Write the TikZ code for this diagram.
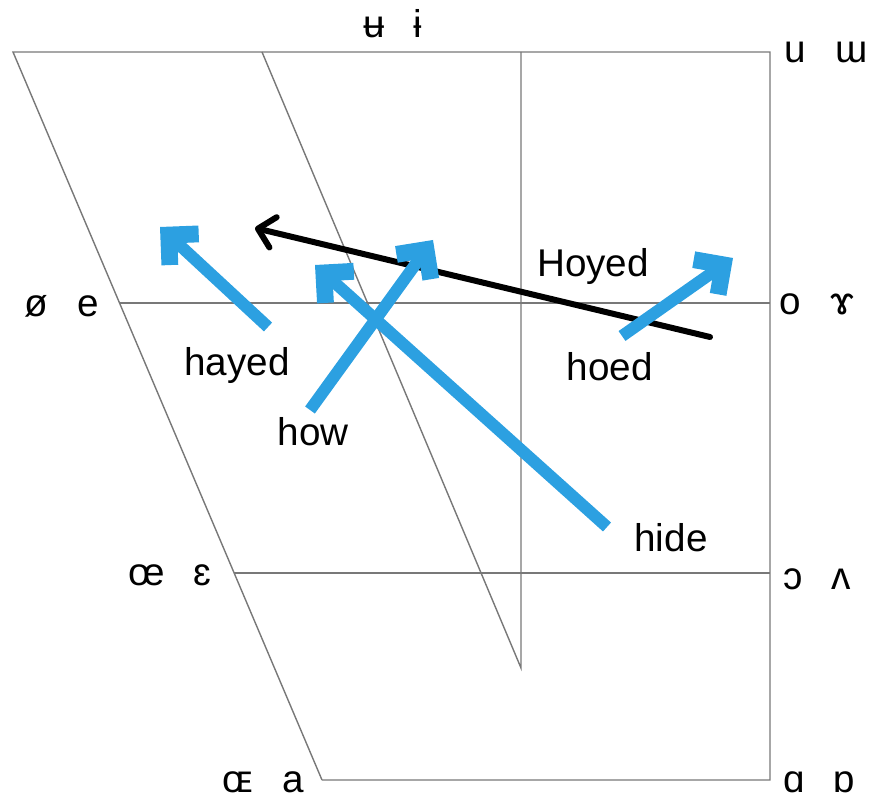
\documentclass[tikz,border=0pt]{standalone}
\usepackage{fontspec}
\setmainfont{Liberation Sans}
\usepackage{xcolor}
\usetikzlibrary{arrows.meta}

\definecolor{chartGrey}{RGB}{120,120,120}
\definecolor{glideBlue}{RGB}{44,160,225}

\begin{document}
\begin{tikzpicture}[
    x=0.025cm,
    y=-0.025cm,
    font=\fontsize{27.5}{32}\selectfont,
    chartLine/.style={
        draw=chartGrey,
        line width=1pt
    },
    glide/.style={
        draw=glideBlue,
        line width=0.3cm,
        -{Straight Barb[angle=90:0.75cm, line width=0.12cm 1]}
    },
    slideArrow/.style={
        draw=black,
        line width=0.15cm,
        line cap=round,
        -{Straight Barb[angle=90:0.55cm, round]}
    },
    vowelPair/.style={
        anchor=base,
        inner sep=0pt
    },
    wordLabel/.style={
        anchor=base,
        inner sep=0pt
    }
]

\useasboundingbox (0,0) rectangle (881,799);

%------------------------------------------------------------------------------
% Vowel chart frame
%------------------------------------------------------------------------------

\coordinate (topLeft)     at (13,52);
\coordinate (topMid)      at (262,52);
\coordinate (topCentre)   at (521,52);
\coordinate (topRight)    at (770,52);
\coordinate (midLeft)     at (119.5,303);
\coordinate (midRight)    at (770,303);
\coordinate (lowLeft)     at (234,573);
\coordinate (lowRight)    at (770,573);
\coordinate (bottomLeft)  at (322,780);
\coordinate (bottomRight) at (770,780);
\coordinate (centreFoot)  at (521,668);

\draw[chartLine] (bottomLeft) -- (topLeft) -- (topRight) -- (bottomRight) -- (bottomLeft);
\draw[chartLine] (topMid) -- (centreFoot) -- (topCentre);
\draw[chartLine] (midLeft) -- (midRight);
\draw[chartLine] (lowLeft) -- (lowRight);

%------------------------------------------------------------------------------
% Vowel symbols
%------------------------------------------------------------------------------

\node[vowelPair] (closeCentral) at (393,38)  {ʉ\hspace{0.75em}ɨ};
\node[vowelPair] (closeBack)    at (826,63)  {u\hspace{0.75em}ɯ};
\node[vowelPair] (midFront)     at (62,317)  {ø\hspace{0.75em}e};
\node[vowelPair] (midBack)      at (817,315) {o\hspace{0.75em}ɤ};
\node[vowelPair] (openMidFront) at (170,585) {œ\hspace{0.75em}ɛ};
\node[vowelPair] (openMidBack)  at (817,589) {ɔ\hspace{0.75em}ʌ};
\node[vowelPair] (openFront)    at (263,792) {ɶ\hspace{0.75em}a};
\node[vowelPair] (openBack)     at (819,792) {ɑ\hspace{0.75em}ɒ};

%------------------------------------------------------------------------------
% Diphthong glides
%------------------------------------------------------------------------------

\coordinate (hayedStart) at (268,327);
\coordinate (hayedEnd)   at (160,227);
\coordinate (howStart)   at (310,410);
\coordinate (howEnd)     at (433,240);
\coordinate (hideStart)  at (607,527);
\coordinate (hideEnd)    at (315,265);
\coordinate (hoedStart)  at (622,336);
\coordinate (hoedEnd)    at (733,258);
\coordinate (hoyedStart) at (710,337);
\coordinate (hoyedEnd)   at (255,228);

\draw[slideArrow] (hoyedStart) -- (hoyedEnd);
\draw[glide] (hayedStart) -- (hayedEnd);
\draw[glide] (howStart) -- (howEnd);
\draw[glide] (hideStart) -- (hideEnd);
\draw[glide] (hoedStart) -- (hoedEnd);

%------------------------------------------------------------------------------
% Word labels
%------------------------------------------------------------------------------

\node[wordLabel] (hayedLabel) at (237,376) {hayed};
\node[wordLabel] (howLabel)   at (313,446) {how};
\node[wordLabel] (hoyedLabel) at (593,277) {Hoyed};
\node[wordLabel] (hoedLabel)  at (610,381) {hoed};
\node[wordLabel] (hideLabel)  at (671,551) {hide};

\end{tikzpicture}
\end{document}
